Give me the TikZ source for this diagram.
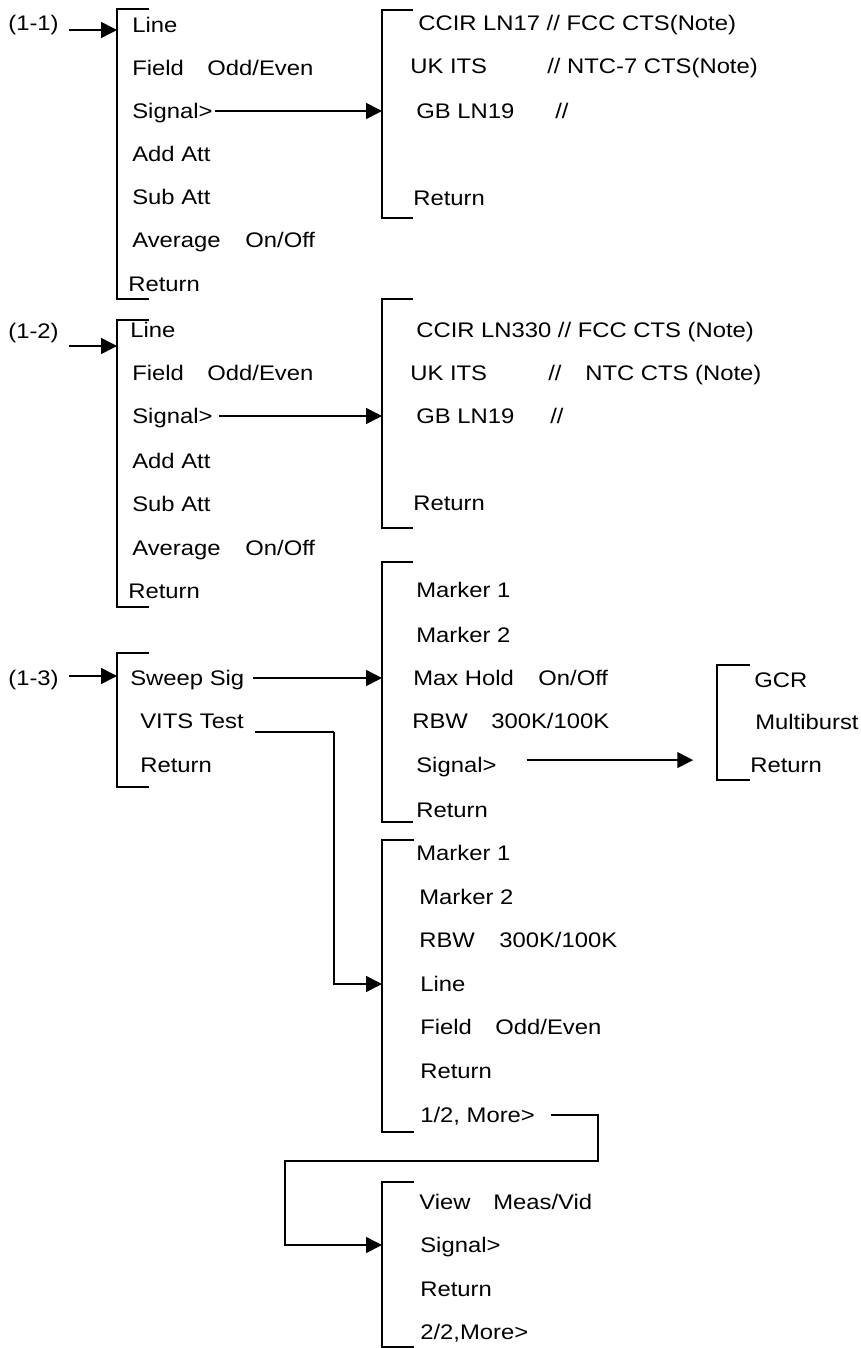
\documentclass[tikz,border=0pt]{standalone}
\usepackage{fontspec}
\setmainfont[FakeStretch=1.13]{Liberation Sans}
\usetikzlibrary{arrows.meta}
\newcommand{\menubar}[4]{\draw[brk] (#1+#4,#2) -| (#1,#3) -- ++(#4,0);}
\tikzset{
  itm/.style ={anchor=west, inner sep=0pt, text height=8.6pt, text depth=0pt,
               font=\fontsize{12}{14}\selectfont},
  brk/.style ={line width=0.9pt},
  ar/.style  ={-{Triangle[length=9pt,width=9pt]}, line width=0.9pt},
  wire/.style={line width=0.9pt}
}
\begin{document}
\begin{tikzpicture}[x=0.02cm, y=-0.02cm]
\useasboundingbox (0,0) rectangle (860,1348);
% menu brackets
\menubar{117}{9}{299}{32}
\menubar{382}{10}{218}{31}
\menubar{117}{320}{607}{32}
\menubar{382}{299}{528}{31}
\menubar{117}{653}{787}{32}
\menubar{382}{562}{822}{31}
\menubar{717}{665}{780}{33}
\menubar{382}{840}{1132}{32}
\menubar{382}{1182}{1347}{32}
\coordinate (mn1) at (117,30);
\coordinate (mn2) at (117,346);
\coordinate (mn3) at (117,676);
\coordinate (sub1) at (382,10);
\coordinate (sub2) at (382,299);
\coordinate (sub3) at (382,562);
\coordinate (sub4) at (382,840);
\coordinate (sub5) at (382,1182);
\coordinate (sub6) at (717,665);
\coordinate (jog) at (334,732);
\coordinate (loopR) at (598,1161);
\coordinate (loopL) at (285,1161);

% (1-1)
\node[itm] (e11) at (8,23) {(1-1)};
\node[itm] (a1) at (132,25) {Line};
\node[itm] (a2) at (132,68) {Field};
\node[itm] (a2v) at (207,68) {Odd/Even};
\node[itm] (a3) at (132,111) {Signal>};
\node[itm] (a4) at (132,154) {Add Att};
\node[itm] (a5) at (132,197) {Sub Att};
\node[itm] (a6) at (132,240) {Average};
\node[itm] (a6v) at (245,240) {On/Off};
\node[itm] (a7) at (128,284) {Return};
\node[itm] (b1) at (418,23) {CCIR LN17 // FCC CTS(Note)};
\node[itm] (b2) at (410,66) {UK ITS};
\node[itm] (b2v) at (547,66) {// NTC-7 CTS(Note)};
\node[itm] (b3) at (416,111) {GB LN19};
\node[itm] (b3v) at (555,111) {//};
\node[itm] (b4) at (413,198) {Return};

% (1-2)
\node[itm] (e12) at (8,331) {(1-2)};
\node[itm] (c1) at (130,330) {Line};
\node[itm] (c2) at (132,373) {Field};
\node[itm] (c2v) at (207,373) {Odd/Even};
\node[itm] (c3) at (132,416) {Signal>};
\node[itm] (c4) at (132,461) {Add Att};
\node[itm] (c5) at (132,504) {Sub Att};
\node[itm] (c6) at (132,548) {Average};
\node[itm] (c6v) at (245,548) {On/Off};
\node[itm] (c7) at (128,591) {Return};
\node[itm] (d1) at (416,330) {CCIR LN330 // FCC CTS (Note)};
\node[itm] (d2) at (410,373) {UK ITS};
\node[itm] (d2s) at (548,373) {//};
\node[itm] (d2v) at (585,373) {NTC CTS (Note)};
\node[itm] (d3) at (416,416) {GB LN19};
\node[itm] (d3v) at (550,416) {//};
\node[itm] (d4) at (413,503) {Return};

% (1-3)
\node[itm] (e13) at (8,678) {(1-3)};
\node[itm] (f1) at (130,678) {Sweep Sig};
\node[itm] (f2) at (140,721) {VITS Test};
\node[itm] (f3) at (140,765) {Return};
\node[itm] (g1) at (416,590) {Marker 1};
\node[itm] (g2) at (416,635) {Marker 2};
\node[itm] (g3) at (413,678) {Max Hold};
\node[itm] (g3v) at (538,678) {On/Off};
\node[itm] (g4) at (412,721) {RBW};
\node[itm] (g4v) at (491,721) {300K/100K};
\node[itm] (g5) at (416,765) {Signal>};
\node[itm] (g6) at (416,810) {Return};
\node[itm] (h1) at (754,680) {GCR};
\node[itm] (h2) at (755,722) {Multiburst};
\node[itm] (h3) at (750,765) {Return};
\node[itm] (k1) at (416,853) {Marker 1};
\node[itm] (k2) at (419,897) {Marker 2};
\node[itm] (k3) at (419,940) {RBW};
\node[itm] (k3v) at (499,940) {300K/100K};
\node[itm] (k4) at (420,984) {Line};
\node[itm] (k5) at (420,1027) {Field};
\node[itm] (k5v) at (495,1027) {Odd/Even};
\node[itm] (k6) at (420,1071) {Return};
\node[itm] (k7) at (420,1115) {1/2, More>};
\node[itm] (m1) at (419,1202) {View};
\node[itm] (m1v) at (493,1202) {Meas/Vid};
\node[itm] (m2) at (420,1245) {Signal>};
\node[itm] (m3) at (420,1289) {Return};
\node[itm] (m4) at (420,1332) {2/2,More>};

% connectors
\draw[ar, shorten <=5.5pt] (e11.east |- mn1) -- (mn1);
\draw[ar, shorten <=5.5pt] (e12.east |- mn2) -- (mn2);
\draw[ar, shorten <=5.5pt] (e13.east |- mn3) -- (mn3);
\draw[ar, shorten <=1.5pt] (a3.east) -- (a3.east -| sub1);
\draw[ar, shorten <=3.4pt] (c3.east) -- (c3.east -| sub2);
\draw[ar, shorten <=5pt] (f1.east) -- (f1.east -| sub3);
\draw[ar, shorten <=17pt, shorten >=13.6pt] ([yshift=2.8pt]g5.east) -- ([yshift=2.8pt]g5.east -| sub6);
\draw[wire, shorten <=6pt] (f2.east |- jog) -- (jog);
\draw[ar] (jog) |- (k4.west -| sub4);
\draw[ar, shorten <=9pt] (k7.east) -| (loopR) -- (loopL) |- (m2.west -| sub5);
\end{tikzpicture}
\end{document}
